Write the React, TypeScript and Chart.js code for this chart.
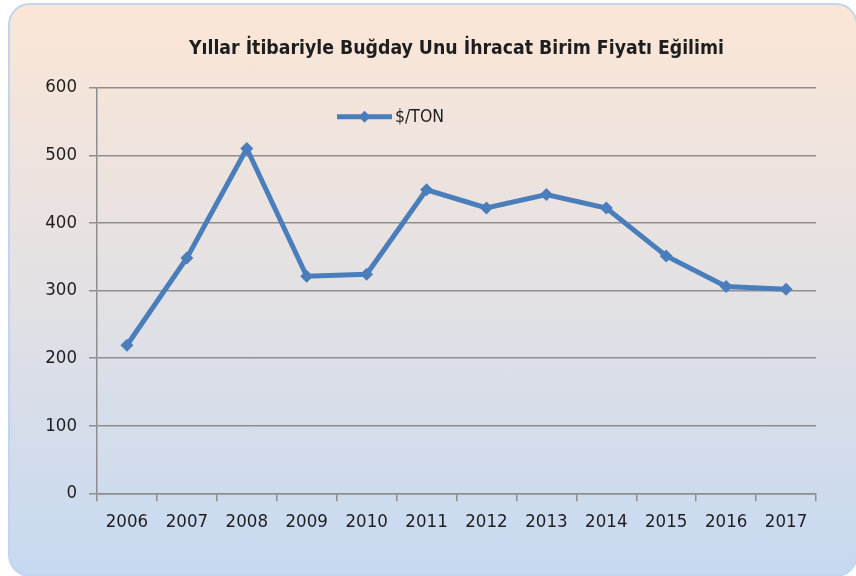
import React, { useEffect, useRef } from "react";
import { Chart, registerables } from "chart.js";

Chart.register(...registerables);

const TITLE = "Yıllar İtibariyle Buğday Unu İhracat Birim Fiyatı Eğilimi";
const SERIES_LABEL = "$/TON";
const years = ["2006", "2007", "2008", "2009", "2010", "2011", "2012", "2013", "2014", "2015", "2016", "2017"];
const pricePerTon = [219, 348, 510, 321, 324, 449, 422, 442, 422, 351, 306, 302];
const Y_MIN = 0;
const Y_MAX = 600;
const Y_STEP = 100;

const FONT = "'Liberation Sans Narrow', 'DejaVu Sans Condensed', 'Liberation Sans', sans-serif";
const LINE_COLOR = "#4a7ebb";
const GRID_COLOR = "#8e8e8e";
const TEXT_COLOR = "#1e1e1e";

const innerLegend = {
  id: "innerLegend",
  afterDatasetsDraw(chart: any) {
    const { ctx, chartArea } = chart;
    const ds = chart.data.datasets[0];
    const x0 = chartArea.left + 240;
    const y = chartArea.top + 29;
    const len = 55;
    ctx.save();
    ctx.strokeStyle = ds.borderColor;
    ctx.lineWidth = ds.borderWidth;
    ctx.beginPath();
    ctx.moveTo(x0, y);
    ctx.lineTo(x0 + len, y);
    ctx.stroke();
    const cx = x0 + len / 2;
    const r = 6;
    ctx.fillStyle = ds.pointBackgroundColor;
    ctx.beginPath();
    ctx.moveTo(cx, y - r);
    ctx.lineTo(cx + r, y);
    ctx.lineTo(cx, y + r);
    ctx.lineTo(cx - r, y);
    ctx.closePath();
    ctx.fill();
    ctx.fillStyle = TEXT_COLOR;
    ctx.font = `17.5px ${FONT}`;
    ctx.textBaseline = "middle";
    ctx.textAlign = "left";
    ctx.fillText(ds.label, x0 + len + 3, y + 1);
    ctx.restore();
  },
};

export default function App() {
  const ref = useRef<HTMLCanvasElement | null>(null);

  useEffect(() => {
    if (!ref.current) return;
    const chart = new Chart(ref.current, {
      type: "line",
      data: {
        labels: years,
        datasets: [
          {
            label: SERIES_LABEL,
            data: pricePerTon,
            borderColor: LINE_COLOR,
            backgroundColor: LINE_COLOR,
            pointBackgroundColor: LINE_COLOR,
            pointBorderColor: LINE_COLOR,
            borderWidth: 5,
            pointStyle: "rectRot",
            pointRadius: 6.5,
            pointBorderWidth: 0,
            tension: 0,
            fill: false,
          },
        ],
      },
      plugins: [innerLegend],
      options: {
        animation: false,
        responsive: false,
        maintainAspectRatio: false,
        layout: { padding: { top: 0, left: 0, right: 40, bottom: 0 } },
        plugins: {
          legend: { display: false },
          tooltip: { enabled: false },
          title: {
            display: true,
            text: TITLE,
            fullSize: false,
            color: TEXT_COLOR,
            font: { family: FONT, size: 19.3, weight: "bold" },
            padding: { top: 37, bottom: 27.5 },
          },
        },
        scales: {
          x: {
            offset: true,
            grid: {
              offset: true,
              drawOnChartArea: false,
              drawTicks: true,
              tickLength: 8,
              color: GRID_COLOR,
              lineWidth: 1.5,
            },
            border: { color: GRID_COLOR, width: 1.5 },
            ticks: {
              color: TEXT_COLOR,
              font: { family: FONT, size: 18.5 },
              padding: 10,
              maxRotation: 0,
              autoSkip: false,
            },
            afterFit(scale: any) {
              scale.height = 576 - 493.3;
            },
          },
          y: {
            min: Y_MIN,
            max: Y_MAX,
            grid: {
              color: GRID_COLOR,
              lineWidth: 1.5,
              tickLength: 8,
              drawTicks: true,
            },
            border: { color: GRID_COLOR, width: 1.5 },
            ticks: {
              stepSize: Y_STEP,
              color: TEXT_COLOR,
              font: { family: FONT, size: 18.5 },
              padding: 12,
            },
            afterFit(scale: any) {
              scale.width = 97;
            },
          },
        },
      },
    });
    return () => chart.destroy();
  }, []);

  return (
    <div style={{ position: "fixed", left: 0, top: 0, width: 856, height: 576, overflow: "hidden", background: "#ffffff" }}>
      <div
        style={{
          position: "absolute",
          left: 8,
          top: 3,
          width: 846,
          height: 570,
          borderRadius: 22,
          border: "2px solid #c3d4ee",
          background: "linear-gradient(180deg, #fbe6d6 0%, #e3e1e4 50%, #c6d9f1 100%)",
        }}
      />
      <canvas ref={ref} width={856} height={576} style={{ position: "absolute", left: 0, top: 0 }} />
    </div>
  );
}
